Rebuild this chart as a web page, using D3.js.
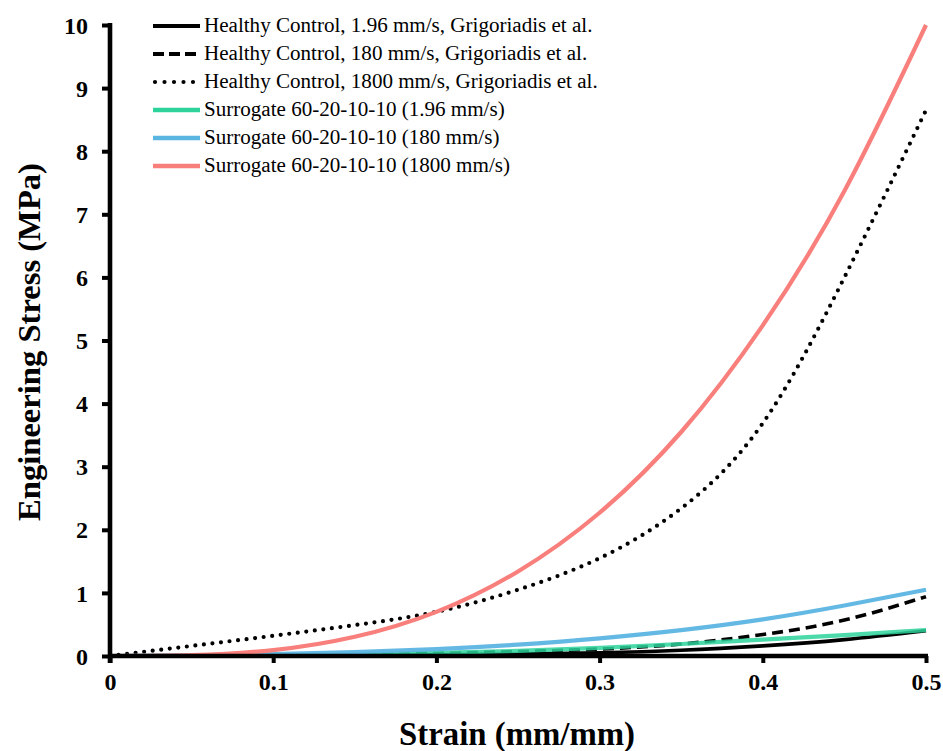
<!DOCTYPE html>
<html><head><meta charset="utf-8">
<script src="https://cdn.jsdelivr.net/npm/d3@7"></script>
<style>body{margin:0;background:#fff}svg{display:block}</style>
</head><body>
<svg id="c" width="943" height="751"></svg>
<script>
// ---- data ----
const strain = [0, 0.05, 0.1, 0.15, 0.2, 0.25, 0.3, 0.35, 0.4, 0.45, 0.5];
const hc196   = [0, 0.002, 0.005, 0.01, 0.02, 0.03, 0.05, 0.09, 0.16, 0.26, 0.40];
const hc180   = [0, 0.004, 0.01, 0.02, 0.04, 0.07, 0.11, 0.19, 0.34, 0.57, 0.94];
const hc1800  = [0, 0.16, 0.32, 0.49, 0.70, 1.05, 1.55, 2.34, 3.69, 6.00, 8.65];
const sur196  = [0, 0.003, 0.01, 0.03, 0.05, 0.08, 0.13, 0.19, 0.26, 0.33, 0.41];
const sur180  = [0, 0.01, 0.03, 0.06, 0.11, 0.18, 0.28, 0.41, 0.58, 0.80, 1.05];
const sur1800 = [0, 0.013, 0.094, 0.305, 0.70, 1.34, 2.27, 3.55, 5.24, 7.37, 10.0];
const seriesNames = [
  "Healthy Control, 1.96 mm/s, Grigoriadis et al.",
  "Healthy Control, 180 mm/s, Grigoriadis et al.",
  "Healthy Control, 1800 mm/s, Grigoriadis et al.",
  "Surrogate 60-20-10-10 (1.96 mm/s)",
  "Surrogate 60-20-10-10 (180 mm/s)",
  "Surrogate 60-20-10-10 (1800 mm/s)"
];
const xTicks = [0, 0.1, 0.2, 0.3, 0.4, 0.5];
const xTickLabels = ["0", "0.1", "0.2", "0.3", "0.4", "0.5"];
const yTicks = [0,1,2,3,4,5,6,7,8,9,10];
const xTitle = "Strain (mm/mm)";
const yTitle = "Engineering Stress (MPa)";

// ---- styles ----
const styles = [
  {color:"#000", width:3.6, dash:null, cap:"butt", op:1},
  {color:"#000", width:3.6, dash:"11,6", cap:"butt", op:1},
  {color:"#000", width:4.2, dash:"0,8.6", cap:"round", op:1},
  {color:"#2DD39B", width:4.2, dash:null, cap:"butt", op:0.85},
  {color:"#5BB5E1", width:4.2, dash:null, cap:"butt", op:0.95},
  {color:"#F87F7B", width:4.2, dash:null, cap:"butt", op:1}
];
const values = [hc196, hc180, hc1800, sur196, sur180, sur1800];

const svg = d3.select("#c");
const FONT = "'Liberation Serif','Times New Roman',serif";
const x = d3.scaleLinear().domain([0,0.5]).range([110,926]);
const y = d3.scaleLinear().domain([0,10]).range([656,25]);

function fit(sel, target){
  const w = sel.node().getComputedTextLength();
  const fs = parseFloat(sel.attr("font-size"));
  sel.attr("font-size", fs*target/w);
  return fs*target/w;
}

// lines
const line = d3.line().x(d=>x(d[0])).y(d=>y(d[1])).curve(d3.curveNatural);
values.forEach((v,i)=>{
  const s = styles[i];
  svg.append("path")
    .datum(strain.map((t,j)=>[t,v[j]]))
    .attr("d", line)
    .attr("fill","none")
    .attr("stroke", s.color)
    .attr("stroke-width", s.width)
    .attr("stroke-dasharray", s.dash)
    .attr("stroke-linecap", s.cap)
    .attr("stroke-opacity", s.op);
});

// axes
const xAxis = svg.append("g").attr("transform","translate(0,656)")
  .call(d3.axisBottom(x).tickValues(xTicks).tickFormat((d,i)=>xTickLabels[i]).tickSizeInner(7).tickSizeOuter(0).tickPadding(10));
const yAxis = svg.append("g").attr("transform","translate(110,0)")
  .call(d3.axisLeft(y).tickValues(yTicks).tickFormat(d3.format("d")).tickSizeInner(8).tickSizeOuter(0).tickPadding(14));
[xAxis,yAxis].forEach(g=>{
  g.select(".domain").attr("stroke","#000").attr("stroke-width",4.6);
  g.selectAll(".tick line").attr("stroke","#000").attr("stroke-width",4);
  g.selectAll(".tick text").attr("fill","#000")
    .attr("font-family",FONT).attr("font-weight","bold").attr("font-size",24);
});
xAxis.select(".domain").attr("d","M108,0H928");
yAxis.select(".domain").attr("d","M0,23V663");
yAxis.selectAll(".tick text").attr("dy","0.34em");
xAxis.selectAll(".tick text").attr("dy","0.7em");

// axis titles
const xt = svg.append("text").attr("x",517).attr("y",745).attr("text-anchor","middle")
  .attr("font-family",FONT).attr("font-weight","bold").attr("font-size",28).text(xTitle);
fit(xt, 236);
const yt = svg.append("text").attr("transform","translate(40,342) rotate(-90)").attr("text-anchor","middle")
  .attr("font-family",FONT).attr("font-weight","bold").attr("font-size",28).text(yTitle);
fit(yt, 358);

// legend
const lg = svg.append("g");
const rowY = d => 26 + d*28;
let legendFs = null;
seriesNames.forEach((name,i)=>{
  const s = styles[i];
  const yy = rowY(i);
  lg.append("line").attr("x1", i===2?155:153).attr("x2",200).attr("y1",yy).attr("y2",yy)
    .attr("stroke",s.color).attr("stroke-width", i<3?4.2:4.4)
    .attr("stroke-dasharray", i===1?"11,5":(i===2?"0,9.5":null))
    .attr("stroke-linecap", i===2?"round":"butt");
  const t = lg.append("text").attr("x",204).attr("y",yy+6)
    .attr("font-family",FONT).attr("font-size",18).attr("fill","#000").text(name);
  if(i===2) legendFs = fit(t, 394);
});
lg.selectAll("text").attr("font-size", legendFs);
</script>
</body></html>
